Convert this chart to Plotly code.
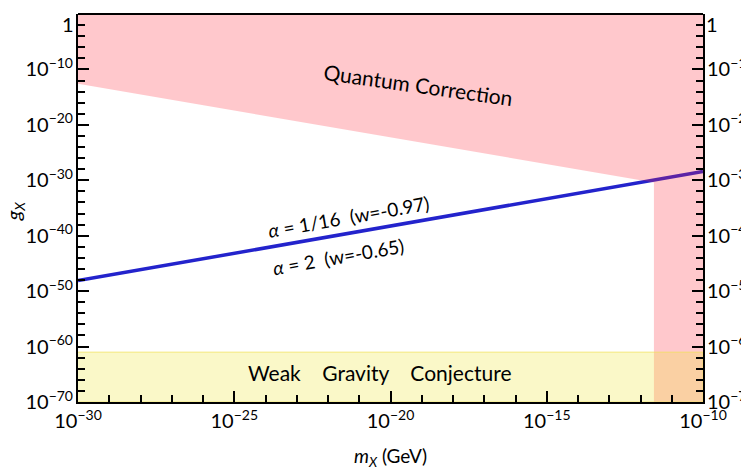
import plotly.graph_objects as go

# ---- data (log10 values) ----
line_m = [1e-30, 1e-10]
line_g = [10**-48.1, 10**-28.4]

qc_x = [1e-30, 1e-10, 1e-10, 10**-11.57, 10**-11.57, 1e-30]
qc_y = [1.0, 1.0, 1e-70, 1e-70, 10**-30.4, 10**-12.6]

wgc_x = [1e-30, 1e-10, 1e-10, 1e-30]
wgc_y = [1e-70, 1e-70, 10**-61.0, 10**-61.0]

x_major = [-30, -25, -20, -15, -10]
y_major = [-70, -60, -50, -40, -30, -20, -10, 0]


def lab(k):
    # the top label "1" is drawn as an annotation so it is not clipped
    return "" if k == 0 else "10<sup>\u2212%d</sup>" % (-k)


x_tickvals = [10.0**k for k in x_major]
x_ticktext = [lab(k) for k in x_major]
x_minor = [10.0**k for k in range(-29, -10) if k % 5 != 0]
y_tickvals = [10.0**k for k in y_major]
y_ticktext = [lab(k) for k in y_major]
y_minor = [10.0**k for k in range(-68, 0, 2) if k % 10 != 0]

FONT = "Lato"
fig = go.Figure()

fig.add_trace(go.Scatter(x=line_m, y=line_g, mode="lines",
                         line=dict(color="#2323cc", width=3.5),
                         showlegend=False, hoverinfo="skip"))
fig.add_trace(go.Scatter(x=qc_x, y=qc_y, mode="lines", fill="toself",
                         fillcolor="rgba(255,43,59,0.26)",
                         line=dict(width=0, color="rgba(0,0,0,0)"),
                         showlegend=False, hoverinfo="skip"))
fig.add_trace(go.Scatter(x=wgc_x, y=wgc_y, mode="lines", fill="toself",
                         fillcolor="rgba(237,230,52,0.27)",
                         line=dict(width=1, color="rgba(240,225,90,0.7)"),
                         showlegend=False, hoverinfo="skip"))
fig.add_trace(go.Scatter(x=[1e-30], y=[1.0], yaxis="y2", mode="markers",
                         marker=dict(opacity=0), showlegend=False,
                         hoverinfo="skip"))

axis_common = dict(type="log", showgrid=False, zeroline=False,
                   showline=True, linecolor="black", linewidth=2,
                   ticks="inside", ticklen=11, tickwidth=2,
                   tickcolor="black", automargin=False,
                   ticklabeloverflow="allow",
                   tickfont=dict(family=FONT, size=20, color="black"))

fig.update_layout(
    width=749, height=467,
    margin=dict(l=70, r=54, t=6, b=73),
    plot_bgcolor="white", paper_bgcolor="white",
    font=dict(family=FONT, color="black"),
    showlegend=False,
    xaxis=dict(**axis_common, range=[-30, -10], mirror=False,
               tickmode="array", tickvals=x_tickvals, ticktext=x_ticktext,
               minor=dict(tickmode="array", tickvals=x_minor, ticks="inside",
                          ticklen=7, tickwidth=2, tickcolor="black")),
    yaxis=dict(**axis_common, range=[-70, 0], ticklabelstandoff=-1,
               tickmode="array", tickvals=y_tickvals, ticktext=y_ticktext,
               minor=dict(tickmode="array", tickvals=y_minor, ticks="inside",
                          ticklen=7, tickwidth=2, tickcolor="black")),
    yaxis2=dict(**axis_common, range=[-70, 0], overlaying="y", side="right",
                ticklabelstandoff=-2,
                tickmode="array", tickvals=y_tickvals, ticktext=y_ticktext,
                minor=dict(tickmode="array", tickvals=y_minor, ticks="inside",
                           ticklen=7, tickwidth=2, tickcolor="black")),
    shapes=[dict(type="line", xref="paper", yref="paper", x0=0, x1=1,
                 y0=1, y1=1, line=dict(color="black", width=2),
                 layer="above")],
)

nb = "\u00a0"
# top "1" tick labels on both sides
fig.add_annotation(x=0, y=1, xref="paper", yref="paper", text="1",
                   xanchor="right", yanchor="top", xshift=-2, yshift=4,
                   showarrow=False,
                   font=dict(family=FONT, size=20, color="black"))
fig.add_annotation(x=1, y=1, xref="paper", yref="paper", text="1",
                   xanchor="left", yanchor="top", xshift=1, yshift=4,
                   showarrow=False,
                   font=dict(family=FONT, size=20, color="black"))
# axis titles
fig.add_annotation(x=0.5, y=-0.142, xref="paper", yref="paper",
                   xanchor="center", yanchor="middle",
                   text="<i>m</i><sub><i>X</i></sub> (GeV)", showarrow=False,
                   font=dict(family=FONT, size=19, color="black"))
fig.add_annotation(x=-0.102, y=0.492, xref="paper", yref="paper",
                   xanchor="center", yanchor="middle",
                   text="<i>g</i><sub><i>X</i></sub>", showarrow=False,
                   textangle=-90,
                   font=dict(family=FONT, size=20, color="black"))

fig.add_annotation(x=-19.12, y=-12.8, xref="x", yref="y",
                   text="Quantum Correction", showarrow=False, textangle=8,
                   font=dict(family=FONT, size=21, color="black"))
fig.add_annotation(x=-21.33, y=-36.6, xref="x", yref="y",
                   text="<i>\u03b1</i> = 1/16" + nb * 2 + "(w=-0.97)",
                   showarrow=False, textangle=-10,
                   font=dict(family=FONT, size=19, color="black"))
fig.add_annotation(x=-21.65, y=-43.7, xref="x", yref="y",
                   text="<i>\u03b1</i> = 2" + nb * 2 + "(w=-0.65)",
                   showarrow=False, textangle=-10,
                   font=dict(family=FONT, size=19, color="black"))
fig.add_annotation(x=-20.34, y=-64.6, xref="x", yref="y",
                   text="Weak" + nb * 4 + "Gravity" + nb * 4 + "Conjecture",
                   showarrow=False,
                   font=dict(family=FONT, size=21, color="black"))

fig.write_html("out.html")
